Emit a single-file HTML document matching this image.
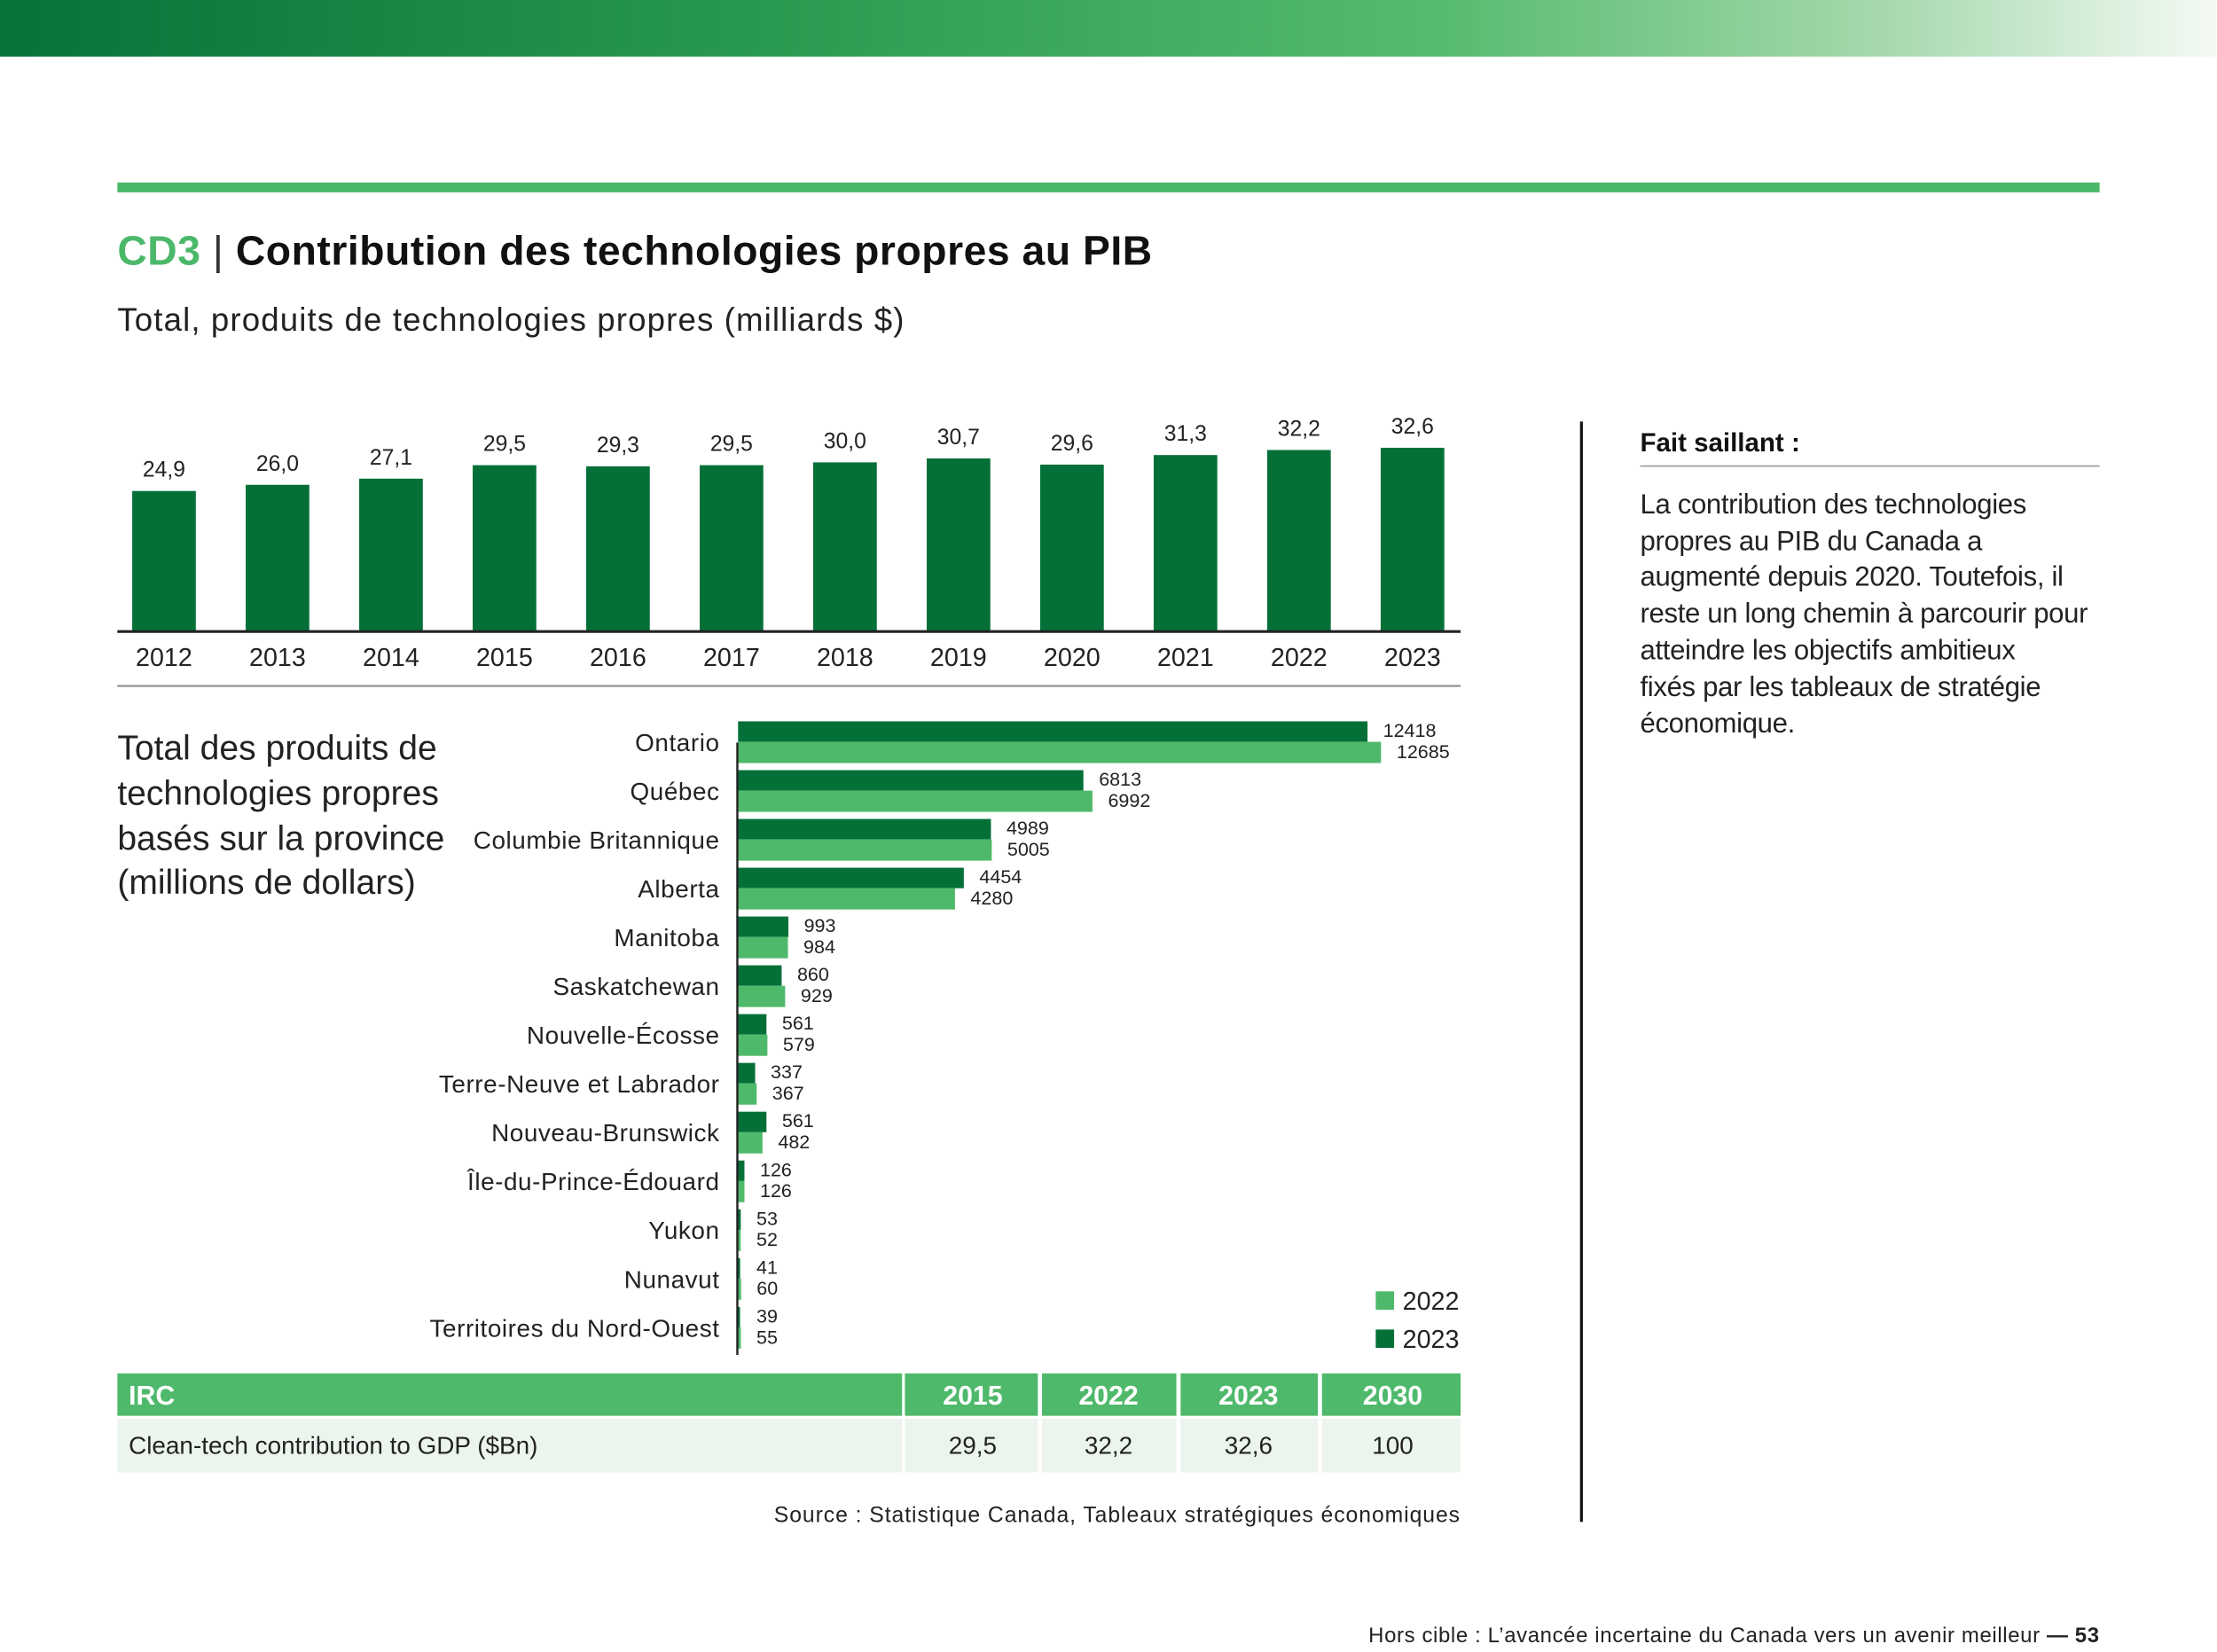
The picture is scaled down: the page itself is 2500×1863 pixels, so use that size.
<!DOCTYPE html>
<html><head><meta charset="utf-8"><style>
html,body{margin:0;padding:0;background:#fff;}
svg{display:block;font-family:"Liberation Sans",sans-serif;}
</style></head><body>
<svg id="page" width="2500" height="1863" viewBox="0 0 1568 1168" preserveAspectRatio="none" xmlns="http://www.w3.org/2000/svg">
<defs><linearGradient id="tg" x1="0" x2="1" y1="0" y2="0">
<stop offset="0" stop-color="#08713a"/><stop offset="0.35" stop-color="#2a9a50"/><stop offset="0.65" stop-color="#56bb6e"/><stop offset="0.85" stop-color="#a6d9ae"/><stop offset="1" stop-color="#f4faf4"/></linearGradient></defs>
<rect x="0" y="0" width="1568" height="40" fill="url(#tg)"/>
<rect x="83" y="129" width="1402" height="7" fill="#4cb86a"/>
<text x="83" y="187" font-size="29" font-weight="bold" fill="#111" letter-spacing="0.35"><tspan fill="#4cb86a">CD3</tspan><tspan font-weight="normal" fill="#333"> | </tspan>Contribution des technologies propres au PIB</text>
<text x="83" y="234" font-size="23" fill="#222" letter-spacing="0.7">Total, produits de technologies propres (milliards $)</text>
<g id="vbars"></g>
<line x1="83" y1="446.5" x2="1033" y2="446.5" stroke="#222" stroke-width="2"/>
<line x1="83" y1="485" x2="1033" y2="485" stroke="#999" stroke-width="1.5"/>
<g font-size="24.5" fill="#222">
<text x="83" y="537">Total des produits de</text>
<text x="83" y="569">technologies propres</text>
<text x="83" y="601">basés sur la province</text>
<text x="83" y="632">(millions de dollars)</text>
</g>
<g id="hbars"></g>
<line x1="521.5" y1="525" x2="521.5" y2="958" stroke="#222" stroke-width="1.5"/>
<g>
<rect x="973" y="913" width="13" height="13" fill="#4fb96b"/>
<text x="992" y="926" font-size="18" fill="#222">2022</text>
<rect x="973" y="940" width="13" height="13" fill="#047038"/>
<text x="992" y="953" font-size="18" fill="#222">2023</text>
</g>
<g>
<rect x="83" y="971" width="555" height="30" fill="#4fb96b"/>
<rect x="640" y="971" width="94" height="30" fill="#4fb96b"/>
<rect x="737" y="971" width="95" height="30" fill="#4fb96b"/>
<rect x="835" y="971" width="97" height="30" fill="#4fb96b"/>
<rect x="935" y="971" width="98" height="30" fill="#4fb96b"/>
<rect x="83" y="1003" width="555" height="38" fill="#ebf5ed"/>
<rect x="640" y="1003" width="94" height="38" fill="#ebf5ed"/>
<rect x="737" y="1003" width="95" height="38" fill="#ebf5ed"/>
<rect x="835" y="1003" width="97" height="38" fill="#ebf5ed"/>
<rect x="935" y="1003" width="98" height="38" fill="#ebf5ed"/>
<g font-size="19" font-weight="bold" fill="#fff">
<text x="91" y="993">IRC</text>
<text x="688" y="993" text-anchor="middle">2015</text>
<text x="784" y="993" text-anchor="middle">2022</text>
<text x="883" y="993" text-anchor="middle">2023</text>
<text x="985" y="993" text-anchor="middle">2030</text>
</g>
<g font-size="17.5" fill="#222">
<text x="91" y="1028">Clean-tech contribution to GDP ($Bn)</text>
<text x="688" y="1028" text-anchor="middle">29,5</text>
<text x="784" y="1028" text-anchor="middle">32,2</text>
<text x="883" y="1028" text-anchor="middle">32,6</text>
<text x="985" y="1028" text-anchor="middle">100</text>
</g>
</g>
<text x="1033" y="1076" font-size="15.5" text-anchor="end" fill="#222" letter-spacing="0.6">Source : Statistique Canada, Tableaux stratégiques économiques</text>
<line x1="1118.5" y1="298" x2="1118.5" y2="1076" stroke="#111" stroke-width="2"/>
<text x="1160" y="319" font-size="18.5" font-weight="bold" fill="#111">Fait saillant :</text>
<line x1="1160" y1="329.5" x2="1485" y2="329.5" stroke="#999" stroke-width="1"/>
<g font-size="19.5" fill="#222" letter-spacing="-0.2">
<text x="1160" y="363">La contribution des technologies</text>
<text x="1160" y="389">propres au PIB du Canada a</text>
<text x="1160" y="414">augmenté depuis 2020. Toutefois, il</text>
<text x="1160" y="440">reste un long chemin à parcourir pour</text>
<text x="1160" y="466">atteindre les objectifs ambitieux</text>
<text x="1160" y="492">fixés par les tableaux de stratégie</text>
<text x="1160" y="518">économique.</text>
</g>
<text x="1485" y="1161" font-size="15" text-anchor="end" fill="#222" letter-spacing="0.4">Hors cible : L’avancée incertaine du Canada vers un avenir meilleur <tspan font-weight="bold">— 53</tspan></text>
</svg>
<script>
const years = ["2012","2013","2014","2015","2016","2017","2018","2019","2020","2021","2022","2023"];
const totals = [24.9,26.0,27.1,29.5,29.3,29.5,30.0,30.7,29.6,31.3,32.2,32.6];
const provinces = ["Ontario","Québec","Columbie Britannique","Alberta","Manitoba","Saskatchewan","Nouvelle-Écosse","Terre-Neuve et Labrador","Nouveau-Brunswick","Île-du-Prince-Édouard","Yukon","Nunavut","Territoires du Nord-Ouest"];
const valuesDark = [12418,6813,4989,4454,993,860,561,337,561,126,53,41,39];
const valuesLight = [12685,6992,5005,4280,984,929,579,367,482,126,52,60,55];
const NS = "http://www.w3.org/2000/svg";
function mk(tag, attrs, parent){const e=document.createElementNS(NS,tag);for(const k in attrs)e.setAttribute(k,attrs[k]);parent.appendChild(e);return e;}
const vg = document.getElementById('vbars');
const base = 446, perUnit = 3.97;
const xv = i => 116 + i*(999-116)/11;
const yv = v => base - v*perUnit;
years.forEach((y,i)=>{
  const r = mk('rect',{x:xv(i)-22.5,y:yv(totals[i]),width:45,height:base-yv(totals[i]),fill:'#047038'},vg);
  
  
  const t = mk('text',{x:xv(i),y:yv(totals[i])-10,'font-size':15.5,'text-anchor':'middle',fill:'#222'},vg);
  t.textContent = totals[i].toFixed(1).replace('.',',');
  
  
  const l = mk('text',{x:xv(i),y:471,'font-size':18,'text-anchor':'middle',fill:'#222'},vg);
  l.textContent = y;
  
  
});
const hg = document.getElementById('hbars');
const x0 = 522, hScale = 0.03585;
const xh = v => x0 + v*hScale;
const rowY = i => 525 + i*34.5;
provinces.forEach((p,i)=>{
  const c = rowY(i);
  const lab = mk('text',{x:509,y:c+6,'font-size':17.5,'text-anchor':'end',fill:'#222','letter-spacing':0.35},hg);
  lab.textContent = p;
  
  
  const d = mk('rect',{x:x0,y:c-15,width:Math.max(1,xh(valuesDark[i])-x0),height:14.5,fill:'#047038'},hg);
  
  
  const l = mk('rect',{x:x0,y:c-0.5,width:Math.max(1,xh(valuesLight[i])-x0),height:15,fill:'#4fb96b'},hg);
  
  
  const td = mk('text',{x:Math.max(xh(valuesDark[i]),x0+2)+11,y:c-4,'font-size':13.5,fill:'#222'},hg);
  td.textContent = valuesDark[i];
  
  
  const tl = mk('text',{x:Math.max(xh(valuesLight[i]),x0+2)+11,y:c+11,'font-size':13.5,fill:'#222'},hg);
  tl.textContent = valuesLight[i];
  
  
});
</script>
</body></html>
